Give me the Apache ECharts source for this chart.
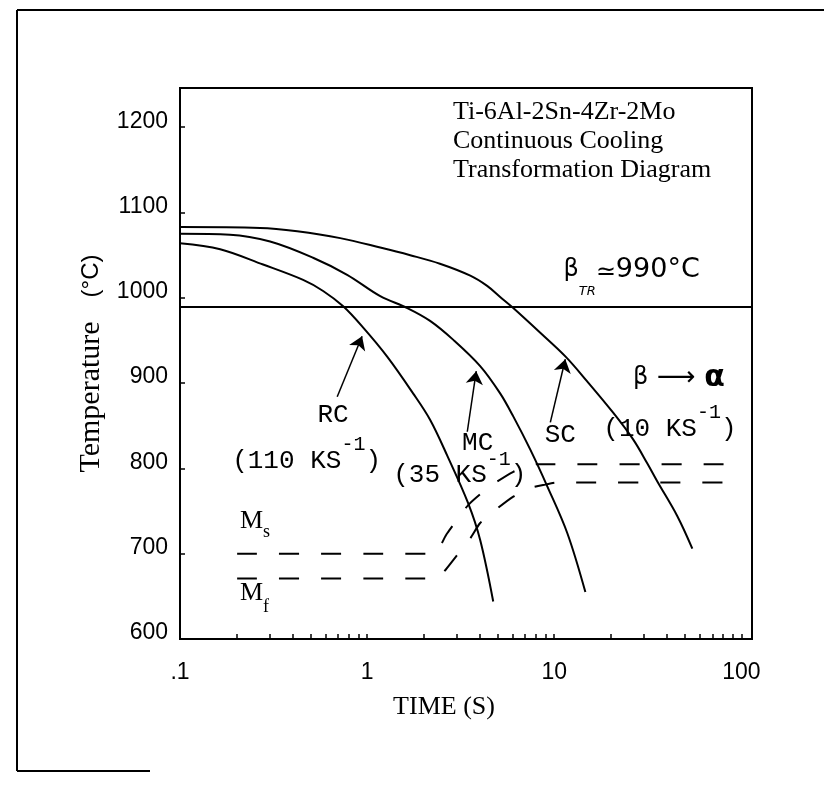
<!DOCTYPE html>
<html>
<head>
<meta charset="utf-8">
<script src="https://cdn.jsdelivr.net/npm/echarts@6/dist/echarts.min.js"></script>
<style>
html,body{margin:0;padding:0;background:#fff;}
#chart{width:824px;height:785px;}
</style>
</head>
<body>
<div id="chart"></div>
<script>
// ---------------- data ----------------
const xTickValues = [0.1, 1, 10, 100];
const xTickLabels = ['.1', '1', '10', '100'];
const xMinorTickValues = [0.2, 0.3, 0.4, 0.5, 0.6, 0.7, 0.8, 0.9, 2, 3, 4, 5, 6, 7, 8, 9, 20, 30, 40, 50, 60, 70, 80, 90];
const yTickValues = [600, 700, 800, 900, 1000, 1100, 1200];

// RC (110 K/s) cooling curve
const rcTime = [0.1, 0.164, 0.278, 0.455, 0.582, 0.745, 0.953, 1.28, 1.76, 2.17, 2.68, 3.47, 4.02, 4.72];
const rcTemp = [1064, 1057, 1039, 1021, 1008, 990, 965, 931, 888, 857, 815, 759, 716, 644];
// MC (35 K/s) cooling curve
const mcTime = [0.1, 0.185, 0.303, 0.514, 0.782, 1.175, 1.64, 2.17, 2.88, 4.02, 5.14, 6.04, 7.45, 9.18, 11.75, 14.67];
const mcTemp = [1075, 1074, 1066, 1047, 1027, 1002, 988, 973, 951, 920, 888, 861, 822, 779, 724, 655];
// SC (10 K/s) cooling curve
const scTime = [0.1, 0.268, 0.423, 0.718, 1.175, 1.70, 2.45, 3.56, 4.38, 5.14, 6.04, 8.42, 11.5, 15.0, 20.7, 26.4, 31.4, 35.5, 45.5, 54.7];
const scTemp = [1083, 1082, 1078, 1070, 1059, 1050, 1040, 1026, 1014, 1001, 988, 959, 931, 902, 865, 834, 806, 785, 744, 706];
// beta transus
const betaTransus = 990;
// Martensite start / finish
const msTime = [0.202, 2.23, 2.68, 3.47, 4.55, 6.04, 7.18, 8.11, 82];
const msTemp = [700, 700, 724, 757, 779, 796, 802, 805, 805];
const mfTime = [0.202, 2.3, 2.55, 2.85, 3.56, 4.02, 4.83, 6.04, 7.45, 8.95, 10.5, 90.6];
const mfTemp = [671, 671, 678, 691, 718, 736, 751, 767, 777, 781, 783.5, 783.5];

// annotation anchors (data coordinates)
const annotationNames = ['RC', 'MC', 'SC', 'rate110', 'rate35', 'rate10', 'betaTR', 'betaAlpha', 'Ms', 'Mf'];
const annotationTime = [0.658, 3.90, 10.77, 0.190, 1.378, 18.3, 11.2, 26.4, 0.209, 0.209];
const annotationTemp = [863, 830, 839.5, 809, 792, 846.6, 1033, 906, 738.5, 653.4];
// arrows from labels to curves
const arrowFromTime = [0.692, 3.43, 9.53];
const arrowFromTemp = [884, 843, 854];
const arrowToTime = [0.940, 3.83, 11.46];
const arrowToTemp = [955, 914, 928];

// ---------------- chart ----------------
const zip = (a, b) => a.map((v, i) => [v, b[i]]);

const labelFormats = {
  RC: '{m|RC}',
  MC: '{m|MC}',
  SC: '{m|SC}',
  rate110: '{m|(110 KS}{sup|-1}{m|)}',
  rate35: '{m|(35 KS}{sup|-1}{m|)}',
  rate10: '{m|(10 KS}{sup|-1}{m|)}',
  betaTR: '{bs|β}{sub|TR}{eq|≃}{t|990°C}',
  betaAlpha: '{bs|β}{t| ⟶ }{al|α}',
  Ms: '{M|M}{s|s}',
  Mf: '{M|M}{f|f}'
};
const labelAlign = { RC: 'center', MC: 'center', SC: 'center' };

const K = '#000';
const rich = {
  m: { fontFamily: 'Liberation Mono', fontSize: 26, color: K, verticalAlign: 'middle' },
  sup: { fontFamily: 'Liberation Mono', fontSize: 20, color: K, verticalAlign: 'middle', padding: [0, 0, 32, 0] },
  bs: { fontFamily: 'DejaVu Sans', fontSize: 24, color: K, verticalAlign: 'middle' },
  sub: { fontFamily: 'DejaVu Sans', fontStyle: 'italic', fontSize: 13, color: K, verticalAlign: 'middle', padding: [43, 0, 0, 0] },
  eq: { fontFamily: 'DejaVu Sans', fontSize: 24, color: K, verticalAlign: 'middle', padding: [6, 0, 0, 0] },
  t: { fontFamily: 'DejaVu Sans', fontSize: 27, color: K, verticalAlign: 'middle' },
  al: { fontFamily: 'DejaVu Sans', fontSize: 30, fontWeight: 'bold', color: K, verticalAlign: 'middle' },
  M: { fontFamily: 'Liberation Serif', fontSize: 26, color: K, verticalAlign: 'middle' },
  s: { fontFamily: 'Liberation Serif', fontSize: 18, color: K, verticalAlign: 'middle', padding: [22, 0, 0, 0] },
  f: { fontFamily: 'Liberation Serif', fontSize: 18, color: K, verticalAlign: 'middle', padding: [27, 0, 0, 0] }
};

const annotationData = annotationNames.map((n, i) => ({
  value: [annotationTime[i], annotationTemp[i]],
  label: {
    show: true,
    position: 'inside',
    align: labelAlign[n] || 'left',
    verticalAlign: 'middle',
    color: K,
    opacity: 1,
    textBorderWidth: 0,
    formatter: labelFormats[n],
    rich: rich
  }
}));

const arrowData = arrowFromTime.map((t, i) => [
  { coord: [t, arrowFromTemp[i]] },
  { coord: [arrowToTime[i], arrowToTemp[i]] }
]);

function xLabel(v) {
  for (let i = 0; i < xTickValues.length; i++) {
    if (Math.abs(Math.log10(v) - Math.log10(xTickValues[i])) < 1e-6) return xTickLabels[i];
  }
  return '';
}

const solidCurve = (name, t, T) => ({
  name, type: 'line', data: zip(t, T), showSymbol: false, symbol: 'none',
  smooth: 0.35, silent: true,
  lineStyle: { color: K, width: 2 }
});
const dashedCurve = (name, t, T) => ({
  name, type: 'line', data: zip(t, T), showSymbol: false, symbol: 'none',
  smooth: 0.25, silent: true,
  lineStyle: { color: K, width: 2, type: [20, 22] }
});

const chart = echarts.init(document.getElementById('chart'), null, { renderer: 'canvas' });
chart.setOption({
  animation: false,
  backgroundColor: '#fff',
  title: {
    text: 'Ti-6Al-2Sn-4Zr-2Mo\nContinuous Cooling\nTransformation Diagram',
    left: 453, top: 98, padding: 0,
    textStyle: { fontFamily: 'Liberation Serif', fontSize: 26, fontWeight: 'normal', lineHeight: 29, color: K }
  },
  grid: { left: 180, top: 88, right: 72, bottom: 146, show: true, borderColor: K, borderWidth: 2 },
  xAxis: {
    type: 'log', logBase: 10, min: 0.1, max: 114,
    axisLine: { show: true, lineStyle: { color: K, width: 2 } },
    axisTick: { show: true, inside: true, length: 5, customValues: xTickValues.concat(xMinorTickValues), lineStyle: { color: K, width: 1.5 } },
    axisLabel: { customValues: xTickValues, formatter: xLabel, margin: 22, fontFamily: 'Liberation Sans', fontSize: 23, color: K },
    splitLine: { show: false },
    minorTick: { show: false },
    name: 'TIME (S)', nameLocation: 'middle', nameGap: 55,
    nameTextStyle: { fontFamily: 'Liberation Serif', fontSize: 26, color: K, padding: [0, 44, 0, 0] }
  },
  yAxis: {
    type: 'value', min: 600, max: 1246, interval: 100,
    axisLine: { show: true, lineStyle: { color: K, width: 2 } },
    axisTick: { show: true, inside: true, length: 5, customValues: yTickValues, lineStyle: { color: K, width: 1.5 } },
    axisLabel: {
      customValues: yTickValues, formatter: v => String(v), margin: 12,
      fontFamily: 'Liberation Sans', fontSize: 23, color: K,
      verticalAlign: 'bottom', lineHeight: 12
    },
    splitLine: { show: false },
    name: '{a|Temperature}{b|(°C)}', nameLocation: 'middle', nameGap: 74,
    nameTextStyle: {
      color: K,
      rich: {
        a: { fontFamily: 'Liberation Serif', fontSize: 30, color: K },
        b: { fontFamily: 'Liberation Sans', fontSize: 24, color: K, padding: [0, 0, 0, 24] }
      }
    }
  },
  graphic: [
    { type: 'line', shape: { x1: 17, y1: 10, x2: 824, y2: 10 }, style: { stroke: K, lineWidth: 2 }, silent: true },
    { type: 'line', shape: { x1: 17, y1: 10, x2: 17, y2: 771 }, style: { stroke: K, lineWidth: 2 }, silent: true },
    { type: 'line', shape: { x1: 17, y1: 771, x2: 150, y2: 771 }, style: { stroke: K, lineWidth: 2 }, silent: true }
  ],
  series: [
    solidCurve('RC', rcTime, rcTemp),
    solidCurve('MC', mcTime, mcTemp),
    solidCurve('SC', scTime, scTemp),
    dashedCurve('Ms', msTime, msTemp),
    dashedCurve('Mf', mfTime, mfTemp),
    {
      name: 'beta transus', type: 'line', data: [], silent: true,
      markLine: {
        silent: true, symbol: ['none', 'none'], label: { show: false },
        lineStyle: { color: K, width: 2, type: 'solid' },
        data: [{ yAxis: betaTransus }]
      }
    },
    {
      name: 'annotations', type: 'scatter', data: annotationData, symbolSize: 1, silent: true,
      itemStyle: { color: 'rgba(0,0,0,0)', opacity: 1 },
      markLine: {
        silent: true, symbol: ['none', 'arrow'], symbolSize: 13,
        label: { show: false },
        lineStyle: { color: K, width: 1.5, type: 'solid' },
        data: arrowData
      }
    }
  ]
});
</script>
</body>
</html>
